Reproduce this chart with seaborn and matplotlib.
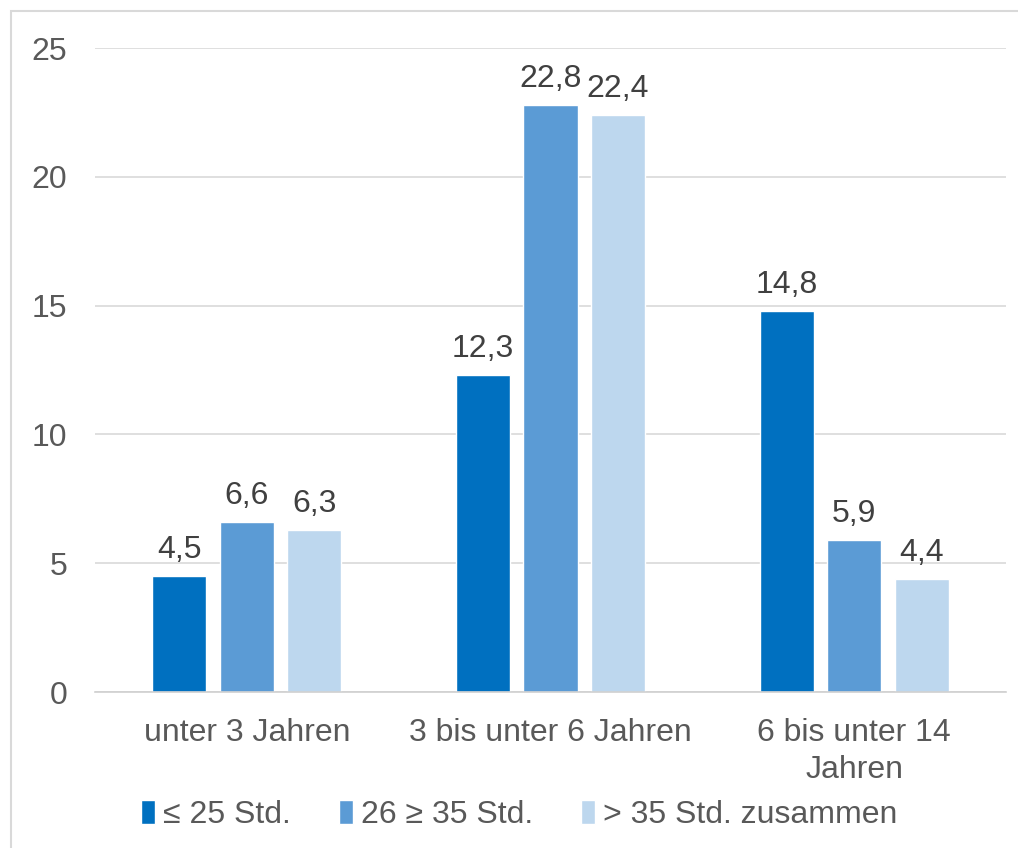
import pandas as pd
import matplotlib.pyplot as plt
import seaborn as sns
from matplotlib.patches import Rectangle

# data
categories = ['unter 3 Jahren', '3 bis unter 6 Jahren', '6 bis unter 14\nJahren']
groups = ['≤ 25 Std.', '26 ≥ 35 Std.', '> 35 Std. zusammen']
vals_25 = [4.5, 12.3, 14.8]
vals_26_35 = [6.6, 22.8, 5.9]
vals_35 = [6.3, 22.4, 4.4]
colors = ['#0070C0', '#5B9BD5', '#BDD7EE']

df = pd.DataFrame({
    'cat': categories * 3,
    'grp': [groups[0]] * 3 + [groups[1]] * 3 + [groups[2]] * 3,
    'val': vals_25 + vals_26_35 + vals_35,
})

sns.set_style('white')
plt.rcParams['font.family'] = ['Liberation Sans', 'DejaVu Sans']
txt = '#595959'
fs = 23

fig = plt.figure(figsize=(10.18, 8.48), dpi=100)
ax = fig.add_axes([95 / 1018, 1 - 692 / 848, 911 / 1018, 644 / 848])

sns.barplot(data=df, x='cat', y='val', hue='grp', hue_order=groups,
            palette=colors, width=0.667, gap=0.2, saturation=1,
            ax=ax, legend=True)

ax.set_xlim(-0.5, 2.5)
ax.set_ylim(0, 25)
ax.set_yticks([0, 5, 10, 15, 20, 25])
ax.grid(axis='y', color='#D9D9D9', linewidth=1.2)
ax.set_axisbelow(True)
for s in ['top', 'right', 'left']:
    ax.spines[s].set_visible(False)
ax.spines['bottom'].set_color('#D0D0D0')
ax.spines['bottom'].set_linewidth(1.2)
ax.tick_params(axis='both', length=0, labelsize=fs, labelcolor=txt)
ax.tick_params(axis='y', pad=20)
ax.tick_params(axis='x', pad=19)
for t in ax.get_xticklabels():
    t.set_linespacing(1.3)
ax.set_xlabel('')
ax.set_ylabel('')

for cont in ax.containers:
    labels = [f'{b.get_height():.1f}'.replace('.', ',') for b in cont]
    ax.bar_label(cont, labels=labels, padding=8, fontsize=fs, color='#404040')

h, l = ax.get_legend_handles_labels()
ax.legend_.remove()
fig.legend(h, l, loc='center', bbox_to_anchor=(0.51, 0.039), ncol=3,
           frameon=False, fontsize=fs, labelcolor=txt,
           handlelength=0.45, handleheight=0.8, handletextpad=0.25,
           columnspacing=1.5)

fig.patches.append(Rectangle((11 / 1018, -0.1), 1.2, (848 - 11) / 848 + 0.1,
                             transform=fig.transFigure, fill=False,
                             edgecolor='#D9D9D9', linewidth=1.5))

fig.savefig('out.png', dpi=100, facecolor='white')
